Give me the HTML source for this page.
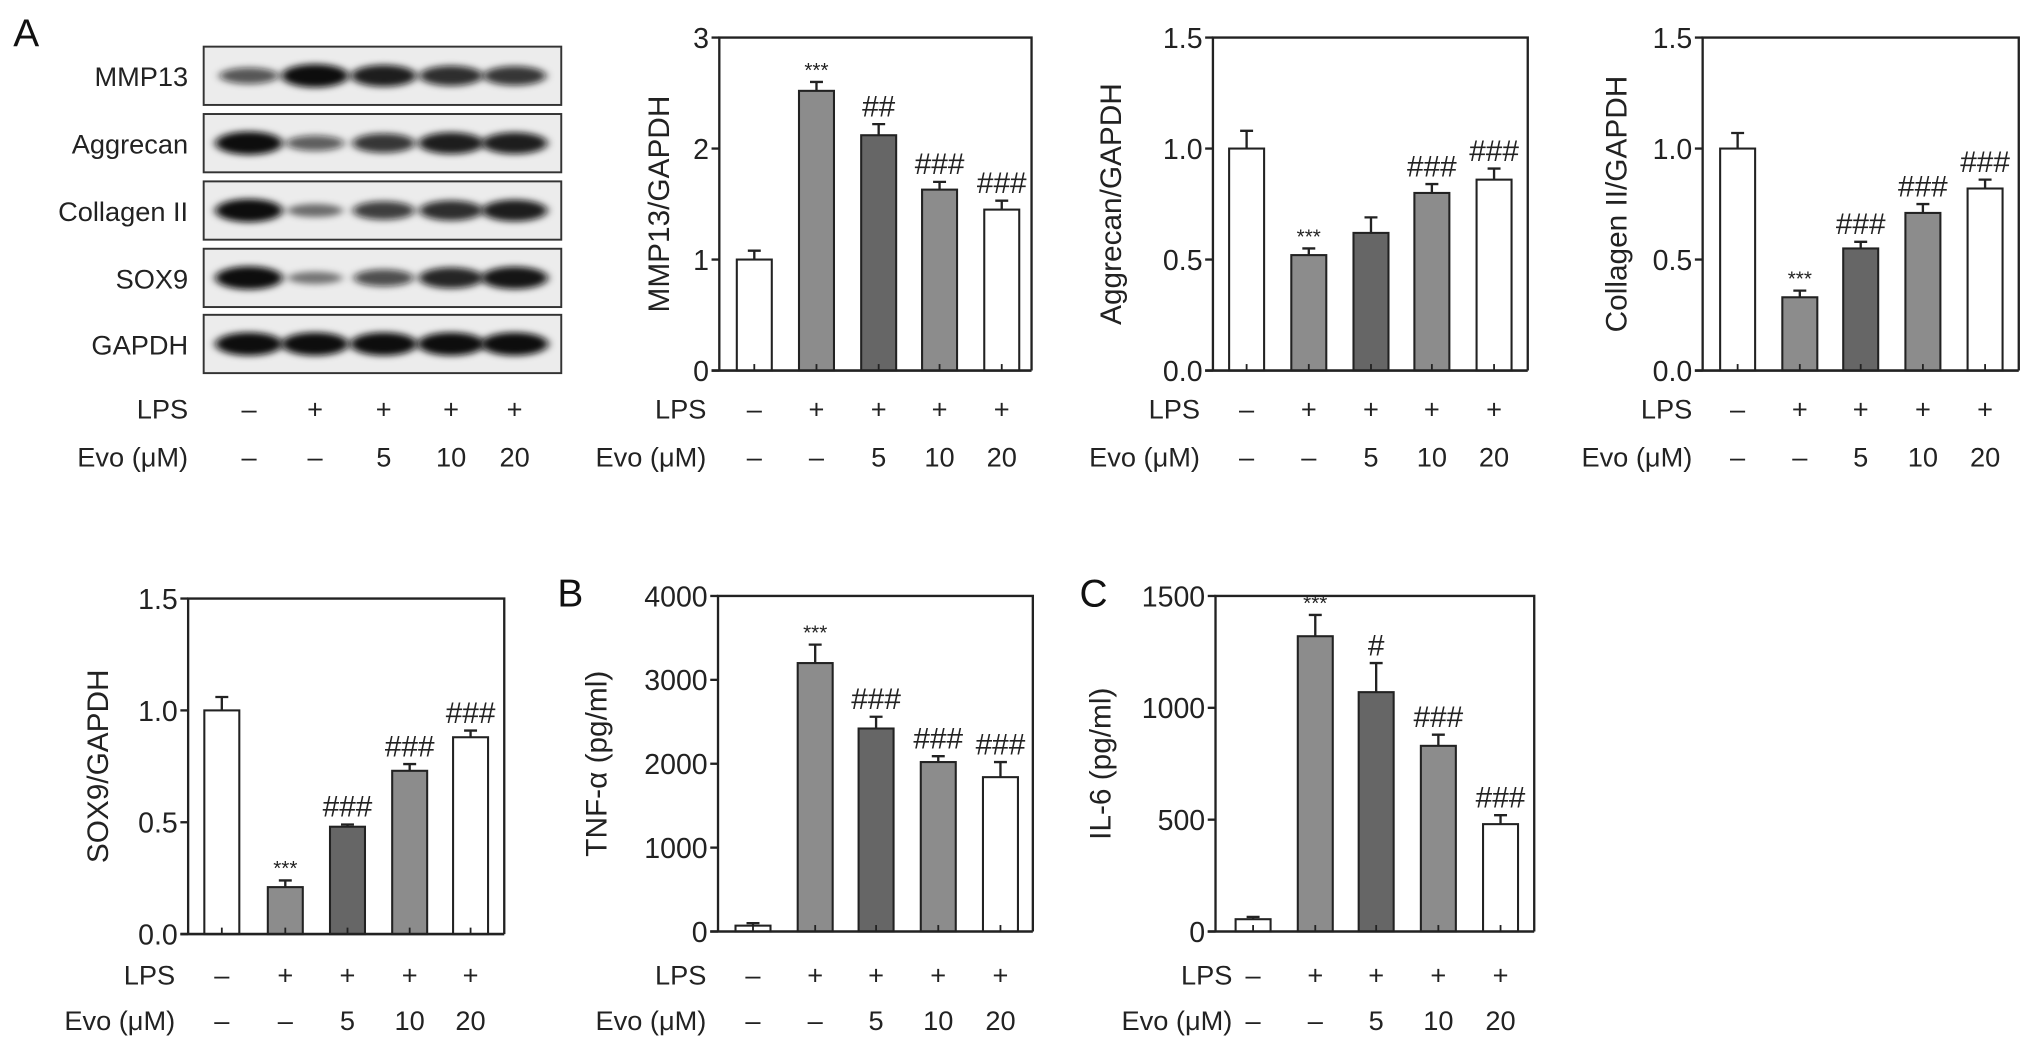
<!DOCTYPE html>
<html><head><meta charset="utf-8"><style>
html,body{margin:0;padding:0;background:#fff;}
svg{display:block;font-family:"Liberation Sans",Arial,sans-serif;}
</style></head><body>
<svg id="fig" width="2032" height="1052" viewBox="0 0 1568 812" xmlns="http://www.w3.org/2000/svg">
<defs><filter id="blur" x="-30%" y="-80%" width="160%" height="260%"><feGaussianBlur stdDeviation="3.2 2.4"/></filter></defs>
<g id="root"></g>
</svg>
<script>
// ---- data ----
const groups = ["Control","LPS","LPS+Evo5","LPS+Evo10","LPS+Evo20"];
const lpsLabels = ["–","+","+","+","+"];
const evoLabels = ["–","–","5","10","20"];
const mmp13Values = [1.0, 2.52, 2.12, 1.63, 1.45];
const mmp13Errors = [0.08, 0.08, 0.10, 0.07, 0.08];
const mmp13Marks = ["", "***", "##", "###", "###"];
const mmp13Ticks = ["0","1","2","3"];
const aggrecanValues = [1.0, 0.52, 0.62, 0.80, 0.86];
const aggrecanErrors = [0.08, 0.03, 0.07, 0.04, 0.05];
const aggrecanMarks = ["", "***", "", "###", "###"];
const collagenValues = [1.0, 0.33, 0.55, 0.71, 0.82];
const collagenErrors = [0.07, 0.03, 0.03, 0.04, 0.04];
const collagenMarks = ["", "***", "###", "###", "###"];
const sox9Values = [1.0, 0.21, 0.48, 0.73, 0.88];
const sox9Errors = [0.06, 0.03, 0.01, 0.03, 0.03];
const sox9Marks = ["", "***", "###", "###", "###"];
const ratioTicks = ["0.0","0.5","1.0","1.5"];
const tnfValues = [70, 3200, 2420, 2020, 1840];
const tnfErrors = [30, 220, 140, 70, 180];
const tnfMarks = ["", "***", "###", "###", "###"];
const tnfTicks = ["0","1000","2000","3000","4000"];
const il6Values = [55, 1320, 1070, 830, 480];
const il6Errors = [10, 95, 130, 50, 40];
const il6Marks = ["", "***", "#", "###", "###"];
const il6Ticks = ["0","500","1000","1500"];
const blotRows = ["MMP13","Aggrecan","Collagen II","SOX9","GAPDH"];
const blotIntensity = [
  [0.55,1.0,0.9,0.8,0.75],
  [1.0,0.5,0.75,0.9,0.9],
  [1.0,0.35,0.7,0.8,0.9],
  [1.0,0.3,0.6,0.85,0.95],
  [1.0,1.0,1.0,1.0,1.0]
];
const fills = ["#ffffff","#8c8c8c","#666666","#8c8c8c","#ffffff"];

const NS = "http://www.w3.org/2000/svg";
const root = document.getElementById("root");
function el(tag, attrs, parent, text){
  const e = document.createElementNS(NS, tag);
  for (const k in attrs) e.setAttribute(k, attrs[k]);
  if (text !== undefined) e.textContent = text;
  (parent||root).appendChild(e);
  return e;
}

function chart(cfg, values, errors, marks, ticks){
  const g = el("g", {});
  
  
  const tickVals = ticks.map(Number);
  const ymax = tickVals[tickVals.length-1];
  const y = v => cfg.bottom - (v/ymax)*(cfg.bottom-cfg.top);
  const xs = cfg.xs;
  const bw = 27;
  const fr = el("path", {d:`M${cfg.left} ${cfg.bottom} V${cfg.top} H${cfg.right} V${cfg.bottom}`, fill:"none", stroke:"#222", "stroke-width":1.8}, g);
  
  
  values.forEach((v,i)=>{
    const yt = y(v), ye = y(v+errors[i]);
    const cx = xs[i];
    const eb = el("path", {d:`M${cx} ${yt} V${ye} M${cx-5} ${ye} H${cx+5}`, stroke:"#222","stroke-width":1.8, fill:"none"}, g);
    
    
    const b = el("rect", {x:cx-bw/2, y:yt, width:bw, height:cfg.bottom-yt, fill:fills[i], stroke:"#222","stroke-width":1.6}, g);
    
    
    el("line",{x1:cx,x2:cx,y1:cfg.bottom,y2:cfg.bottom-5,stroke:"#222","stroke-width":1.4},g);
    if (marks[i]) {
      const star = marks[i].startsWith("*");
      const t = el("text", {x:cx, y:ye-(star?4:6), "text-anchor":"middle", "font-size": star?16:23, fill:"#222"}, g, marks[i]);
      
      
    }
  });
  el("line",{x1:cfg.left-6,x2:cfg.right,y1:cfg.bottom,y2:cfg.bottom,stroke:"#222","stroke-width":2},g);
  ticks.forEach((t,i)=>{
    const yy = y(tickVals[i]);
    el("line",{x1:cfg.left-6,x2:cfg.left,y1:yy,y2:yy,stroke:"#222","stroke-width":1.8},g);
    const tl = el("text",{x:cfg.left-8,y:yy+8,"text-anchor":"end","font-size":22,fill:"#222"},g,t);
    
    
  });
  const cy = (cfg.top+cfg.bottom)/2;
  const ti = el("text",{x:cfg.titleX,y:cy,"text-anchor":"middle","font-size":23,fill:"#222",transform:`rotate(-90 ${cfg.titleX} ${cy})`,"dominant-baseline":"middle"},g,cfg.title);
  
  
  condRows(g, xs, cfg.labelRight, cfg.lpsY, cfg.evoY);
}

function condRows(g, xs, right, lpsY, evoY){
  const a = el("text",{x:right,y:lpsY+8,"text-anchor":"end","font-size":21,fill:"#222"},g,"LPS");
  
  
  const b = el("text",{x:right,y:evoY+8,"text-anchor":"end","font-size":21,fill:"#222"},g,"Evo (μM)");
  
  
  xs.forEach((x,i)=>{
    el("text",{x:x,y:lpsY+8,"text-anchor":"middle","font-size":21,fill:"#222"},g,lpsLabels[i]);
    el("text",{x:x,y:evoY+8,"text-anchor":"middle","font-size":21,fill:"#222"},g,evoLabels[i]);
  });
}

[["A",10,36],["B",430,468],["C",833,468]].forEach(p=>{
  const t = el("text",{x:p[1],y:p[2],"font-size":30,fill:"#111"},root,p[0]);
  
  
});

const blot = el("g",{});


const laneX = [192,243,296,348,397];
const rowTop = [36,88,140,192,243];
blotRows.forEach((name,r)=>{
  const top = rowTop[r], h = 45;
  const box = el("rect",{x:157,y:top,width:276,height:h,fill:"#ececec",stroke:"#333","stroke-width":1.5},blot);
  
  
  laneX.forEach((x,i)=>{
    const k = blotIntensity[r][i];
    el("ellipse",{cx:x,cy:top+h/2,rx:19+7*k,ry:3+6*k,fill:"#0a0a0a","fill-opacity":0.3+0.7*k,filter:"url(#blur)"},blot);
  });
  const l = el("text",{x:145,y:top+h/2+8,"text-anchor":"end","font-size":21,fill:"#222"},blot,name);
  
  
});
condRows(blot, laneX, 145, 315, 352);

chart({name:"mmp13-chart",left:555,right:796,top:29,bottom:286,xs:[582,630,678,725,773],title:"MMP13/GAPDH",titleX:510,labelRight:545,lpsY:315,evoY:352}, mmp13Values, mmp13Errors, mmp13Marks, mmp13Ticks);
chart({name:"aggrecan-chart",left:936,right:1179,top:29,bottom:286,xs:[962,1010,1058,1105,1153],title:"Aggrecan/GAPDH",titleX:859,labelRight:926,lpsY:315,evoY:352}, aggrecanValues, aggrecanErrors, aggrecanMarks, ratioTicks);
chart({name:"collagen-ii-chart",left:1314,right:1558,top:29,bottom:286,xs:[1341,1389,1436,1484,1532],title:"Collagen II/GAPDH",titleX:1249,labelRight:1306,lpsY:315,evoY:352}, collagenValues, collagenErrors, collagenMarks, ratioTicks);
chart({name:"sox9-chart",left:145,right:389,top:462,bottom:721,xs:[171,220,268,316,363],title:"SOX9/GAPDH",titleX:77,labelRight:135,lpsY:752,evoY:787}, sox9Values, sox9Errors, sox9Marks, ratioTicks);
chart({name:"tnf-alpha-chart",left:554,right:797,top:460,bottom:719,xs:[581,629,676,724,772],title:"TNF-α (pg/ml)",titleX:462,labelRight:545,lpsY:752,evoY:787}, tnfValues, tnfErrors, tnfMarks, tnfTicks);
chart({name:"il-6-chart",left:938,right:1184,top:460,bottom:719,xs:[967,1015,1062,1110,1158],title:"IL-6 (pg/ml)",titleX:851,labelRight:951,lpsY:752,evoY:787}, il6Values, il6Errors, il6Marks, il6Ticks);
</script>
</body></html>
